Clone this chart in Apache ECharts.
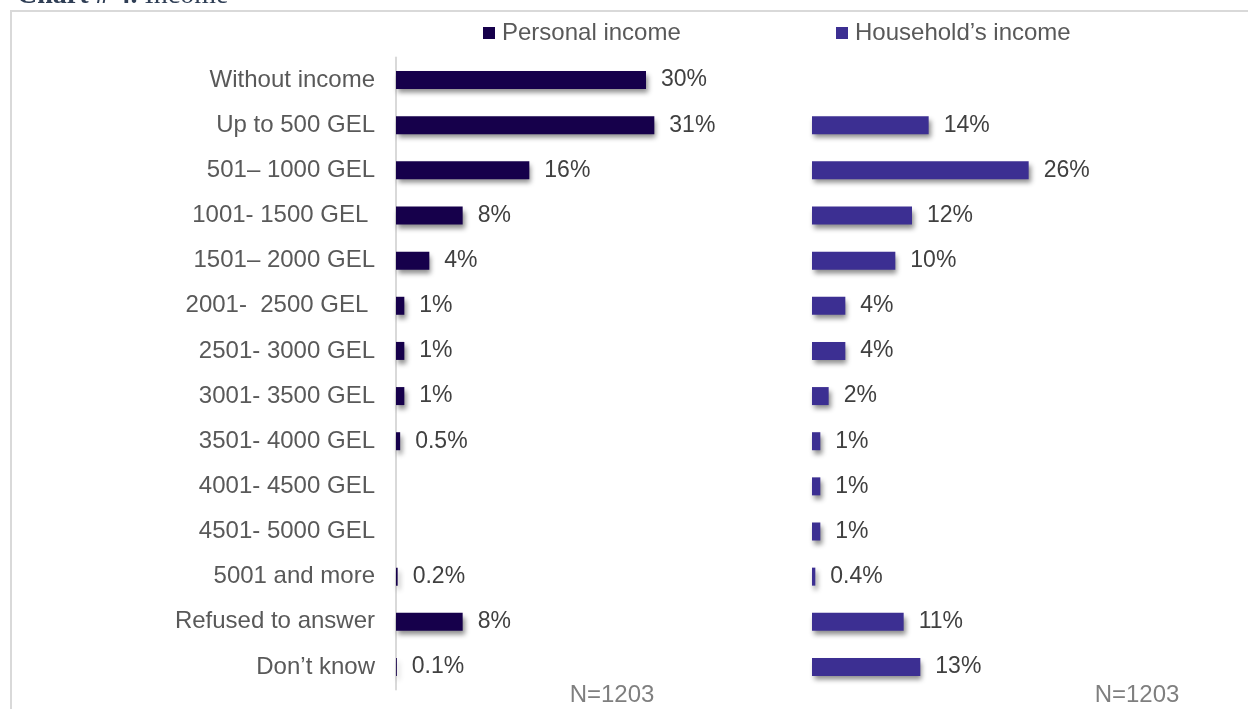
<!DOCTYPE html>
<html>
<head>
<meta charset="utf-8">
<script src="https://cdn.jsdelivr.net/npm/echarts@6/dist/echarts.min.js"></script>
<style>
  html, body { margin: 0; padding: 0; background: #ffffff; }
  #chart { width: 1248px; height: 709px; }
</style>
</head>
<body>
<div id="chart"></div>
<script>
// Income brackets (top to bottom)
const categories = [
  'Without income', 'Up to 500 GEL', '501\u2013 1000 GEL', '1001- 1500 GEL ',
  '1501\u2013 2000 GEL', '2001-  2500 GEL ', '2501- 3000 GEL', '3001- 3500 GEL',
  '3501- 4000 GEL', '4001- 4500 GEL', '4501- 5000 GEL', '5001 and more',
  'Refused to answer', 'Don\u2019t know'
];
// Shares in percent; null = no answer in that bracket
const personalIncome  = [30, 31, 16, 8, 4, 1, 1, 1, 0.5, null, null, 0.2, 8, 0.1];
const householdIncome = [null, 14, 26, 12, 10, 4, 4, 2, 1, 1, 1, 0.4, 11, 13];
const seriesNames = ['Personal income', 'Household\u2019s income'];
const sampleNote = 'N=1203';

const FONT = 'Liberation Sans, Arial, sans-serif';
const COLORS = ['#16004b', '#3c2f92'];

const chart = echarts.init(document.getElementById('chart'), null, { renderer: 'canvas' });

function barSeries(name, data, idx) {
  return {
    name: name,
    type: 'bar',
    xAxisIndex: idx,
    yAxisIndex: idx,
    data: data,
    barWidth: 18,
    itemStyle: {
      color: COLORS[idx],
      shadowColor: 'rgba(0,0,0,0.45)',
      shadowBlur: 5,
      shadowOffsetX: 2,
      shadowOffsetY: 4
    },
    label: {
      show: true,
      position: 'right',
      distance: 15,
      fontFamily: FONT,
      fontSize: 23,
      color: '#404040',
      formatter: p => (p.value == null ? '' : p.value + '%')
    },
    emphasis: { disabled: true },
    animation: false
  };
}

const gridTop = 57.5, gridHeight = 632;

function legendFor(name, left) {
  return {
    data: [name], left: left, top: 21, padding: 0,
    icon: 'rect', itemWidth: 12, itemHeight: 12, itemGap: 0,
    textStyle: { fontFamily: FONT, fontSize: 24, color: '#595959', padding: [0, 0, 0, 2] },
    selectedMode: false
  };
}

chart.setOption({
  backgroundColor: '#ffffff',
  animation: false,
  grid: [
    { left: 396, top: gridTop, width: 400, height: gridHeight, containLabel: false },
    { left: 812, top: gridTop, width: 400, height: gridHeight, containLabel: false }
  ],
  xAxis: [
    { gridIndex: 0, type: 'value', min: 0, max: 48, show: false },
    { gridIndex: 1, type: 'value', min: 0, max: 48, show: false }
  ],
  yAxis: [
    {
      gridIndex: 0, type: 'category', data: categories, inverse: true,
      axisLine: { show: true, lineStyle: { color: '#d9d9d9', width: 2 } },
      axisTick: { show: false },
      axisLabel: { fontFamily: FONT, fontSize: 24, color: '#595959', margin: 21 }
    },
    {
      gridIndex: 1, type: 'category', data: categories, inverse: true,
      axisLine: { show: false }, axisTick: { show: false }, axisLabel: { show: false }
    }
  ],
  legend: [legendFor(seriesNames[0], 483), legendFor(seriesNames[1], 836)],
  graphic: [
    {
      type: 'rect', silent: true, z: -1,
      shape: { x: 11, y: 11, width: 1260, height: 720 },
      style: { fill: 'none', stroke: '#d9d9d9', lineWidth: 2 }
    },
    {
      type: 'text', left: 17, top: -18, silent: true,
      style: {
        text: '{b|Chart # 4.}{n| Income}',
        rich: {
          b: { fontFamily: 'Liberation Serif, serif', fontWeight: 'bold', fontSize: 28, fill: '#2f3e55', color: '#2f3e55' },
          n: { fontFamily: 'Liberation Serif, serif', fontSize: 28, fill: '#2f3e55', color: '#2f3e55' }
        }
      }
    },
    {
      type: 'text', x: 612, y: 695, silent: true,
      style: { text: sampleNote, fontFamily: FONT, fontSize: 24, fill: '#7f7f7f', textAlign: 'center', textVerticalAlign: 'middle' }
    },
    {
      type: 'text', x: 1137, y: 695, silent: true,
      style: { text: sampleNote, fontFamily: FONT, fontSize: 24, fill: '#7f7f7f', textAlign: 'center', textVerticalAlign: 'middle' }
    }
  ],
  series: [
    barSeries(seriesNames[0], personalIncome, 0),
    barSeries(seriesNames[1], householdIncome, 1)
  ]
});
</script>
</body>
</html>
